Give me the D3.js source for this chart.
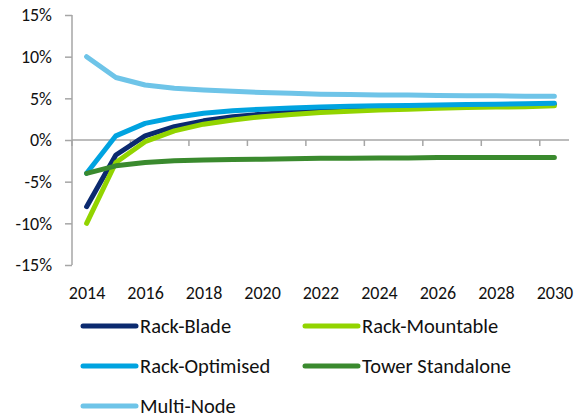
<!DOCTYPE html>
<html>
<head>
<meta charset="utf-8">
<style>
  body { margin: 0; background: #fff; }
  text { font-family: Carlito, Lato, sans-serif; fill: #111; }
</style>
<script src="https://d3js.org/d3.v7.min.js"></script>
</head>
<body>
<svg width="576" height="419"></svg>
<script>
var years = d3.range(2014, 2031);
var yTicks = [-0.15, -0.10, -0.05, 0, 0.05, 0.10, 0.15];
var names = ["Rack-Blade", "Rack-Mountable", "Rack-Optimised", "Tower Standalone", "Multi-Node"];
var colors = ["#0b2a6f", "#92d400", "#00a3e0", "#3a8a2e", "#6ec4e8"];

var rackBlade = [-8.0, -1.8, 0.5, 1.6, 2.3, 2.8, 3.1, 3.35, 3.55, 3.7, 3.8, 3.9, 4.0, 4.1, 4.15, 4.2, 4.25];
var rackMountable = [-10.0, -2.7, -0.2, 1.1, 1.9, 2.4, 2.8, 3.05, 3.3, 3.45, 3.6, 3.7, 3.8, 3.9, 3.95, 4.0, 4.1];
var rackOptimised = [-4.0, 0.5, 2.0, 2.7, 3.2, 3.5, 3.7, 3.85, 3.95, 4.05, 4.1, 4.15, 4.2, 4.25, 4.3, 4.35, 4.4];
var towerStandalone = [-4.0, -3.1, -2.7, -2.5, -2.4, -2.35, -2.3, -2.25, -2.2, -2.2, -2.15, -2.15, -2.1, -2.1, -2.1, -2.1, -2.1];
var multiNode = [10.0, 7.5, 6.6, 6.2, 6.0, 5.85, 5.7, 5.6, 5.5, 5.45, 5.4, 5.4, 5.35, 5.3, 5.3, 5.25, 5.25];
var series = [rackBlade, rackMountable, rackOptimised, towerStandalone, multiNode];

var svg = d3.select("svg");
var x0 = 72, x1 = 569, y0 = 15, y1 = 265;

var band = d3.scaleBand().domain(years).range([x0, x1]);
var x = d3.scalePoint().domain(years).range([x0, x1]).padding(0.5);
var y = d3.scaleLinear().domain([-0.15, 0.15]).range([y1, y0]);

var pct = function(d) { return Math.round(d * 100) + "%"; };

// y axis
var ya = svg.append("g").attr("transform", "translate(" + x0 + ",0)")
  .call(d3.axisLeft(y).tickValues(yTicks).tickFormat(pct).tickSize(7).tickPadding(13));
ya.selectAll("path, line").attr("stroke", "#a6a6a6").attr("stroke-width", 1.5);
ya.select(".domain").attr("d", "M0," + y0 + "V" + y1);
ya.selectAll("text").style("font-size", "18px").style("font-family", "Carlito, Lato, sans-serif").attr("fill", "#111");

// x axis at 0
var xa = svg.append("g").attr("transform", "translate(0," + y(0) + ")");
xa.append("line").attr("x1", x0).attr("x2", x1)
  .attr("stroke", "#a6a6a6").attr("stroke-width", 1.5);
xa.selectAll(".tk").data(years.filter(function(d, i) { return i % 2 == 0; }))
  .enter().append("line")
  .attr("x1", function(d) { return band(d); }).attr("x2", function(d) { return band(d); })
  .attr("y1", 0).attr("y2", 6)
  .attr("stroke", "#a6a6a6").attr("stroke-width", 1.5);

// year labels
var xl = svg.append("g")
  .call(d3.axisBottom(x).tickValues(years.filter(function(d, i) { return i % 2 == 0; })).tickSize(0).tickPadding(0));
xl.select(".domain").remove();
xl.selectAll("text").attr("y", 299).attr("dy", 0)
  .style("font-size", "18px").style("font-family", "Carlito, Lato, sans-serif").attr("fill", "#111");

var line = d3.line()
  .x(function(d, i) { return x(years[i]); })
  .y(function(d) { return y(d / 100); });

svg.selectAll(".series").data(series).enter().append("path")
  .attr("class", "series")
  .attr("d", line)
  .attr("fill", "none")
  .attr("stroke", function(d, i) { return colors[i]; })
  .attr("stroke-width", 5)
  .attr("stroke-linecap", "round")
  .attr("stroke-linejoin", "round");

// legend
var lg = svg.selectAll(".lg").data(names).enter().append("g")
  .attr("transform", function(d, i) {
    return "translate(" + (i % 2 == 0 ? 83 : 305) + "," + (326 + Math.floor(i / 2) * 40) + ")";
  });
lg.append("line").attr("x1", 0).attr("x2", 53)
  .attr("stroke", function(d, i) { return colors[i]; })
  .attr("stroke-width", 5).attr("stroke-linecap", "round");
lg.append("text").attr("x", 57).attr("dy", "0.36em")
  .style("font-size", "20.5px").text(function(d) { return d; });
</script>
</body>
</html>
